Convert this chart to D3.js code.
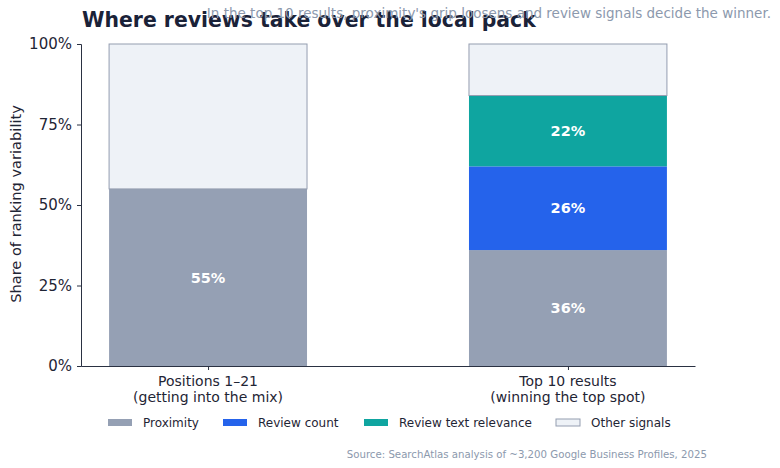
<!DOCTYPE html>
<html><head><meta charset="utf-8">
<script src="https://cdn.jsdelivr.net/npm/d3@7"></script>
<style>body{margin:0;background:#fff}svg{display:block;font-family:"DejaVu Sans",sans-serif}</style>
</head><body><svg id="c" width="780" height="468"></svg>
<script>
const categories = ["Positions 1–21\n(getting into the mix)", "Top 10 results\n(winning the top spot)"];
const seriesNames = ["Proximity", "Review count", "Review text relevance", "Other signals"];
const proximity = [55, 36];
const reviewCount = [0, 26];
const reviewText = [0, 22];
const otherSignals = [45, 16];
const yTicks = [0, 25, 50, 75, 100];
const colors = ["#95a0b4", "#2563eb", "#0fa5a0", "#eef2f7"];

const svg = d3.select("#c");
const x = d3.scaleLinear().domain([-0.353, 1.353]).range([81, 695]);
const y = d3.scaleLinear().domain([0, 100]).range([366, 44]);
const bw = x(0.55) - x(0);

const series = [proximity, reviewCount, reviewText, otherSignals];
const rows = categories.map((c, i) => {
  const r = {i};
  seriesNames.forEach((s, k) => r[s] = series[k][i]);
  return r;
});
const stack = d3.stack().keys(seriesNames)(rows);

stack.forEach((layer, k) => {
  svg.append("g").selectAll("rect").data(layer.filter(d => d[1] - d[0] > 0)).join("rect")
    .attr("x", d => x(d.data.i) - bw / 2)
    .attr("width", bw)
    .attr("y", d => y(d[1]))
    .attr("height", d => y(d[0]) - y(d[1]))
    .attr("fill", colors[k])
    .attr("stroke", k === 3 ? "#949db0" : "none")
    .attr("stroke-width", 1);
  if (k < 3) {
    svg.append("g").selectAll("text").data(layer.filter(d => d[1] - d[0] > 0)).join("text")
      .attr("x", d => x(d.data.i))
      .attr("y", d => y((d[0] + d[1]) / 2))
      .attr("dy", "0.35em")
      .attr("text-anchor", "middle")
      .attr("fill", "#fff")
      .attr("font-weight", "bold")
      .attr("font-size", 14.5)
      .text(d => Math.round(d[1] - d[0]) + "%");
  }
});

// y axis
const ya = svg.append("g").attr("transform", "translate(81,0)")
  .call(d3.axisLeft(y).tickValues(yTicks).tickFormat(d => d + "%").tickSize(4).tickPadding(5));
ya.select(".domain").attr("stroke", "#2a3142");
ya.selectAll(".tick line").attr("stroke", "#2a3142");
ya.selectAll(".tick text").attr("font-size", 15).attr("fill", "#1f2535").attr("font-family", "DejaVu Sans");

// x axis
const xa = svg.append("g").attr("transform", "translate(0,366)")
  .call(d3.axisBottom(x).tickValues([0, 1]).tickFormat("").tickSize(4).tickSizeOuter(0));
xa.select(".domain").attr("stroke", "#2a3142");
xa.selectAll(".tick line").attr("stroke", "#2a3142");
categories.forEach((c, i) => {
  const t = svg.append("text").attr("x", x(i)).attr("y", 386).attr("text-anchor", "middle")
    .attr("font-size", 14).attr("fill", "#1f2535");
  c.split("\n").forEach((line, j) => t.append("tspan").attr("x", x(i)).attr("dy", j ? 16 : 0).text(line));
});

// y label
svg.append("text").attr("transform", "translate(21,204) rotate(-90)").attr("text-anchor", "middle")
  .attr("font-size", 14.6).attr("fill", "#1f2535").text("Share of ranking variability");

// title & subtitle
svg.append("text").attr("x", 82).attr("y", 27).attr("font-size", 20.4).attr("font-weight", "bold")
  .attr("fill", "#1a2238").text("Where reviews take over the local pack");
svg.append("text").attr("x", 771).attr("y", 18).attr("text-anchor", "end").attr("font-size", 13.5)
  .attr("fill", "#8c99ad").text("In the top 10 results, proximity's grip loosens and review signals decide the winner.");

// legend
const legX = [108, 223, 364, 556];
seriesNames.forEach((s, k) => {
  svg.append("rect").attr("x", legX[k]).attr("y", 419).attr("width", 24).attr("height", 7)
    .attr("fill", colors[k]).attr("stroke", k === 3 ? "#949db0" : "none");
  svg.append("text").attr("x", legX[k] + 35).attr("y", 427).attr("font-size", 12)
    .attr("fill", "#1f2535").text(s);
});

// source
svg.append("text").attr("x", 707).attr("y", 457.5).attr("text-anchor", "end").attr("font-size", 10.2)
  .attr("fill", "#8c99ad").text("Source: SearchAtlas analysis of ~3,200 Google Business Profiles, 2025");
</script></body></html>
